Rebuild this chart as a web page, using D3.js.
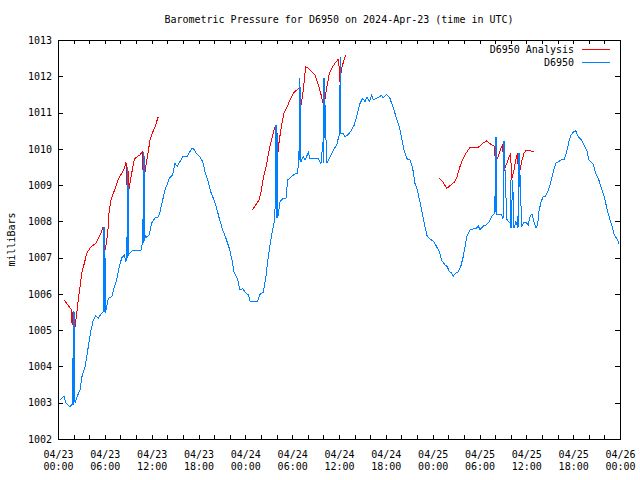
<!DOCTYPE html>
<html><head><meta charset="utf-8">
<script src="https://cdn.jsdelivr.net/npm/d3@7"></script>
<style>
body{margin:0;background:#fff;}
text{font-family:"DejaVu Sans Mono","Liberation Mono",monospace;font-size:10px;fill:#000;}
</style></head>
<body><svg id="c" width="640" height="480"></svg>
<script>
// Hours since 2024-04-23 00:00 UTC
const blueHours = [0.26,0.77,1.02,1.54,1.76,1.85,1.88,1.92,1.96,2.0,2.05,2.18,2.43,2.82,3.04,3.46,3.88,4.23,4.52,4.83,5.16,5.6,5.78,5.8,5.83,5.87,5.9,5.94,5.97,6.01,6.05,6.11,6.44,6.88,7.21,7.52,7.81,8.16,8.49,8.71,8.8,8.84,8.88,8.92,8.96,9.0,9.04,9.1,9.65,10.63,10.8,10.9,10.94,10.98,11.02,11.06,11.15,11.66,12.0,12.43,12.85,13.07,13.41,13.71,14.26,14.69,14.99,15.28,15.63,16.05,16.56,17.13,17.33,17.68,18.1,18.54,18.83,19.25,19.56,19.98,20.33,20.66,21.1,21.52,21.94,22.25,22.55,22.97,23.32,23.66,24.08,24.38,24.6,25.58,25.88,26.3,26.61,26.86,27.16,27.45,27.71,27.89,27.93,27.97,28.01,28.05,28.09,28.14,28.44,28.86,29.21,29.43,29.72,30.27,30.71,30.87,30.95,31.0,31.04,31.13,31.42,31.64,32.07,32.28,33.35,33.69,33.95,33.99,34.03,34.07,34.11,34.42,34.85,35.4,35.7,35.91,36.05,36.1,36.15,36.22,36.55,36.77,37.11,37.54,37.96,38.34,38.69,39.03,39.33,39.58,39.88,40.19,40.39,41.03,41.25,41.46,41.67,42.11,42.53,42.96,43.3,43.72,44.03,44.32,44.75,45.09,45.44,45.73,46.03,46.37,46.72,47.02,47.31,47.75,48.17,48.51,48.85,49.15,49.58,49.87,50.13,50.38,50.64,50.99,51.28,51.59,51.92,52.14,52.43,52.78,53.29,53.55,53.84,54.06,54.57,54.83,55.25,55.56,55.86,55.98,56.02,56.07,56.12,56.2,56.62,56.84,56.98,57.05,57.14,57.49,57.91,57.96,58.0,58.05,58.25,58.42,58.67,58.88,58.93,58.97,59.02,59.1,59.4,59.7,59.92,60.25,60.47,60.72,60.98,61.24,61.45,61.62,61.88,62.17,62.48,62.81,63.16,63.45,63.76,64.6,64.86,65.17,65.46,65.72,66.06,66.32,66.65,67.0,67.29,67.73,68.02,68.58,68.88,69.22,69.56,69.86,70.17,70.42,70.72,71.01,71.27,71.57,71.87];
const blueValues = [1003.07,1003.18,1002.99,1002.88,1002.96,1002.95,1004.23,1002.95,1005.54,1002.95,1005.5,1003.0,1003.16,1003.35,1003.7,1003.98,1004.54,1005.0,1005.28,1005.39,1005.33,1005.47,1005.5,1006.06,1005.5,1007.85,1005.5,1007.85,1005.5,1007.6,1005.5,1005.5,1005.88,1005.92,1006.19,1006.38,1006.71,1006.99,1007.07,1006.88,1007.58,1006.9,1009.51,1007.0,1009.51,1007.05,1008.5,1007.1,1007.21,1007.21,1007.4,1008.13,1007.4,1009.92,1007.45,1009.8,1007.54,1007.62,1007.95,1008.09,1008.12,1008.26,1008.59,1008.86,1009.19,1009.28,1009.6,1009.51,1009.65,1009.8,1009.8,1010.01,1010.01,1009.89,1009.8,1009.65,1009.37,1009.1,1008.82,1008.59,1008.36,1008.08,1007.76,1007.53,1007.26,1006.98,1006.61,1006.43,1006.11,1006.15,1006.02,1005.98,1005.8,1005.8,1005.99,1006.04,1006.43,1006.89,1007.35,1007.72,1008.0,1008.64,1010.66,1008.1,1010.66,1008.1,1010.4,1008.08,1008.54,1008.64,1008.64,1009.14,1009.2,1009.3,1009.32,1009.94,1009.7,1011.94,1009.65,1009.65,1009.78,1009.69,1009.9,1009.72,1009.72,1009.6,1010.2,1009.6,1011.94,1009.6,1011.94,1009.6,1009.78,1010.01,1010.1,1010.29,1010.38,1010.45,1012.54,1010.43,1010.43,1010.33,1010.38,1010.49,1010.66,1010.95,1011.25,1011.39,1011.3,1011.42,1011.3,1011.48,1011.35,1011.42,1011.44,1011.48,1011.4,1011.5,1011.39,1011.12,1010.89,1010.61,1010.29,1009.97,1009.71,1009.69,1009.46,1009.05,1008.86,1008.54,1008.18,1007.85,1007.58,1007.5,1007.44,1007.3,1007.16,1006.93,1006.8,1006.75,1006.61,1006.58,1006.49,1006.58,1006.61,1006.75,1007.03,1007.3,1007.62,1007.76,1007.8,1007.8,1007.87,1007.78,1007.89,1007.89,1007.99,1008.13,1008.2,1008.31,1010.33,1008.25,1010.33,1008.2,1008.19,1008.18,1008.08,1008.1,1010.22,1008.06,1007.95,1007.81,1009.14,1007.81,1009.14,1007.81,1007.99,1007.85,1007.87,1009.88,1007.85,1009.88,1007.87,1007.98,1007.98,1007.9,1008.13,1008.2,1007.99,1007.81,1007.9,1008.27,1008.54,1008.68,1008.7,1008.86,1009.1,1009.37,1009.6,1009.71,1009.71,1009.92,1010.2,1010.38,1010.47,1010.5,1010.33,1010.26,1010.15,1009.97,1009.69,1009.58,1009.32,1009.19,1008.96,1008.77,1008.5,1008.27,1008.04,1007.85,1007.62,1007.53,1007.39,1007.16];

// null marks a gap in the analysis series
const redHours = [0.81,1.11,1.41,1.76,1.8,1.9,2.05,2.4,2.6,2.82,3.04,3.37,3.68,3.88,4.23,4.52,4.83,5.16,5.51,5.8,5.85,5.95,6.05,6.37,6.53,6.79,7.08,7.39,7.72,8.16,8.58,8.71,8.85,8.95,9.05,9.22,9.52,9.77,10.21,10.5,10.8,10.9,11.0,11.1,11.24,11.49,11.79,12.08,12.43,12.85,
  null,
  24.89,25.33,25.75,26.01,26.3,26.61,26.94,27.29,27.58,27.8,27.95,28.05,28.15,28.35,28.66,28.95,29.38,29.72,30.14,30.58,30.87,31.05,31.42,31.73,32.07,32.5,32.92,33.35,33.66,33.91,34.05,34.15,34.42,34.76,35.07,35.49,35.83,35.96,36.1,36.34,36.64,36.9,
  null,
  48.85,49.28,49.8,50.31,50.86,51.15,51.5,51.85,52.27,52.78,53.84,54.41,54.92,55.43,55.86,56.05,56.41,56.72,56.98,57.1,57.49,57.79,58.0,58.1,58.42,58.67,58.88,59.0,59.4,59.7,59.96,60.47,60.98];
const redValues = [1005.83,1005.74,1005.65,1005.56,1005.14,1005.5,1004.87,1005.47,1005.83,1006.2,1006.57,1006.84,1007.12,1007.19,1007.3,1007.34,1007.39,1007.53,1007.67,1007.85,1007.3,1007.75,1007.21,1007.67,1008.22,1008.59,1008.77,1008.94,1009.16,1009.32,1009.51,1009.62,1008.96,1009.5,1008.85,1009.05,1009.42,1009.71,1009.8,1009.83,1009.92,1009.37,1009.9,1009.28,1009.51,1009.83,1010.24,1010.43,1010.61,1010.89,
  null,
  1008.31,1008.45,1008.59,1008.82,1009.19,1009.46,1009.83,1010.2,1010.43,1010.61,1009.92,1010.5,1009.85,1010.24,1010.66,1010.98,1011.16,1011.35,1011.53,1011.62,1011.67,1011.07,1011.62,1012.26,1012.22,1012.13,1012.03,1011.76,1011.53,1011.3,1011.15,1011.3,1011.67,1012.08,1012.22,1012.36,1012.45,1012.47,1011.85,1012.22,1012.45,1012.59,
  null,
  1009.19,1009.1,1008.91,1009.0,1009.1,1009.25,1009.51,1009.71,1009.88,1010.04,1010.04,1010.15,1010.22,1010.13,1010.08,1009.65,1009.78,1010.01,1010.13,1009.37,1009.6,1009.77,1009.88,1009.14,1009.42,1009.71,1009.88,1009.21,1009.65,1009.88,1009.95,1009.95,1009.92];

const yTicks = [1002,1003,1004,1005,1006,1007,1008,1009,1010,1011,1012,1013];
const seriesNames = ["D6950 Analysis", "D6950"];
const seriesColors = ["#ff0000", "#0080ff"];
const titleText = "Barometric Pressure for D6950 on 2024-Apr-23 (time in UTC)";
const yLabel = "milliBars";

const base = Date.UTC(2024, 3, 23);
const toDate = h => new Date(base + h * 3600000);

const L = 58, R = 620, T = 40, B = 439;
const svg = d3.select("#c");
const x = d3.scaleUtc().domain([toDate(0), toDate(72)]).range([L, R]);
const y = d3.scaleLinear().domain([1002, 1013]).range([B, T]);

const minorTicks = d3.range(0, 73, 2).map(toDate);
const majorTicks = d3.range(0, 73, 6).map(toDate);
const fmtDay = d3.utcFormat("%m/%d"), fmtTime = d3.utcFormat("%H:%M");

// axes
svg.append("g").attr("transform", `translate(0,${B})`)
  .call(d3.axisBottom(x).tickValues(minorTicks).tickSize(-4).tickFormat(""));
const gB2 = svg.append("g").attr("transform", `translate(0,${B})`)
  .call(d3.axisBottom(x).tickValues(majorTicks).tickSize(-4).tickPadding(0).tickFormat(""));
gB2.selectAll(".tick").each(function(d){
  const t = d3.select(this).select("text").attr("dy", null).attr("y", 0);
  t.append("tspan").attr("x", 0).attr("y", 19).text(fmtDay(d));
  t.append("tspan").attr("x", 0).attr("y", 31).text(fmtTime(d));
});
svg.append("g").attr("transform", `translate(0,${T})`)
  .call(d3.axisTop(x).tickValues(minorTicks).tickSize(-4).tickFormat(""));
svg.append("g").attr("transform", `translate(${L},0)`)
  .call(d3.axisLeft(y).tickValues(yTicks).tickSize(-5).tickPadding(6).tickFormat(d3.format("d")));
svg.append("g").attr("transform", `translate(${R},0)`)
  .call(d3.axisRight(y).tickValues(yTicks).tickSize(-5).tickFormat(""));
svg.selectAll(".domain").remove();
svg.selectAll(".tick line").attr("stroke", "#000").attr("shape-rendering", "crispEdges");
svg.selectAll(".tick text").style("font-family", "DejaVu Sans Mono").style("font-size", "10px").attr("fill", "#000");
svg.append("rect").attr("x", L).attr("y", T).attr("width", R - L).attr("height", B - T)
  .attr("fill", "none").attr("stroke", "#000").attr("shape-rendering", "crispEdges");

// series
const line = d3.line().defined(d => d[0] !== null && d[1] !== null)
  .x(d => x(toDate(d[0]))).y(d => y(d[1]));
const redData = redHours.map((h, i) => [h, redValues[i]]);
const blueData = blueHours.map((h, i) => [h, blueValues[i]]);
svg.append("path").datum(redData).attr("d", line).attr("fill", "none")
  .attr("stroke", seriesColors[0]).attr("stroke-width", 1).attr("shape-rendering", "crispEdges");
svg.append("path").datum(blueData).attr("d", line).attr("fill", "none")
  .attr("stroke", seriesColors[1]).attr("stroke-width", 1).attr("shape-rendering", "crispEdges");

// legend
seriesNames.forEach((n, i) => {
  const ly = 49.5 + i * 12.5;
  svg.append("text").attr("x", 574).attr("y", ly).attr("dy", "0.35em")
    .attr("text-anchor", "end").text(n);
  svg.append("line").attr("x1", 582).attr("x2", 610).attr("y1", ly).attr("y2", ly)
    .attr("stroke", seriesColors[i]).attr("stroke-width", 1).attr("shape-rendering", "crispEdges");
});

// title and y label
svg.append("text").attr("x", (L + R) / 2).attr("y", 23).attr("text-anchor", "middle").text(titleText);
svg.append("text").attr("transform", `translate(15,${(T + B) / 2}) rotate(-90)`)
  .attr("text-anchor", "middle").text(yLabel);
</script></body></html>
